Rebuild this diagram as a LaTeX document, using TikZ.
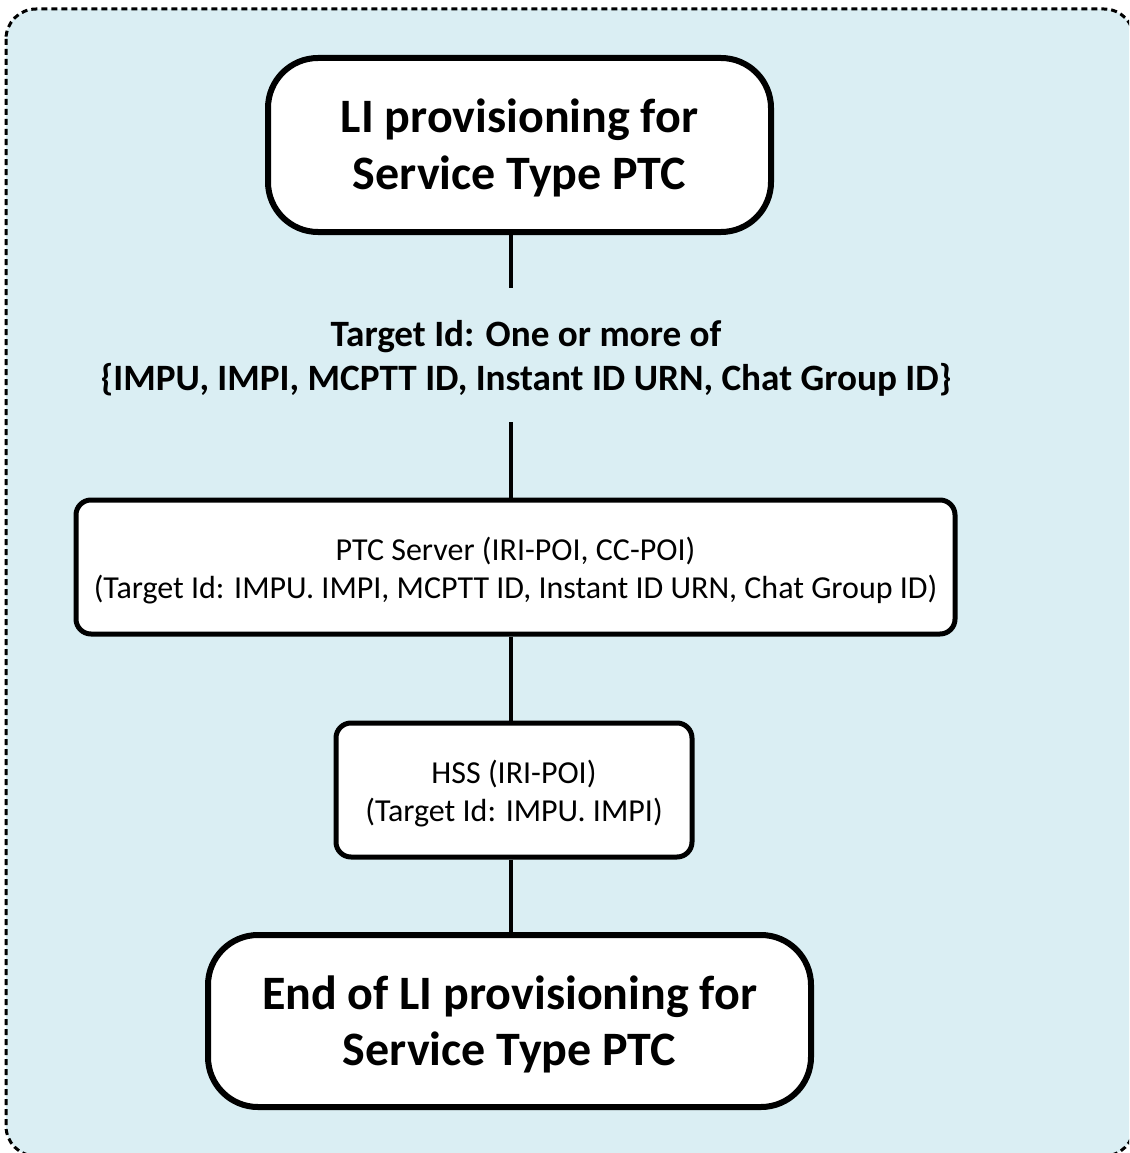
\documentclass[tikz,border=0pt]{standalone}
\usepackage{fontspec}
\setmainfont{Carlito}
\definecolor{bgblue}{HTML}{DAEEF3}
\begin{document}
\begin{tikzpicture}[x=1pt,y=-1pt,
  bigbox/.style={draw=black,line width=6pt,fill=white,rounded corners=50pt,inner sep=0pt},
  bigtext/.style={align=center,inner sep=0pt,font=\fontsize{48}{56.5}\selectfont\bfseries},
  smallbox/.style={draw=black,line width=5pt,fill=white,rounded corners=15pt,inner sep=0pt},
  smalltext/.style={align=center,inner sep=0pt,font=\fontsize{32}{38}\selectfont},
  midlabel/.style={align=center,inner sep=0pt,font=\fontsize{37.2}{44}\selectfont\bfseries},
  link/.style={draw=black,line width=4pt}]
\useasboundingbox (0,0) rectangle (1129,1153);
\begin{scope}
\clip (0,0) rectangle (1129,1153);
\draw[fill=bgblue,line width=3pt,dash pattern=on 6pt off 4pt,rounded corners=30pt] (6,9) rectangle (1134,1156);
\end{scope}
\node[bigbox,minimum width=503pt,minimum height=174pt,
  label={[bigtext,yshift=-3pt]center:{LI provisioning for\\Service Type PTC}}] (start) at (519.5,145) {};
\node[midlabel] (target) at (526,358) {Target Id: One or more of\\\{IMPU, IMPI, MCPTT ID, Instant ID URN, Chat Group ID\}};
\node[smallbox,minimum width=879pt,minimum height=134pt,
  label={[smalltext,yshift=-3.5pt]center:{PTC Server (IRI-POI, CC-POI)\\(Target Id: IMPU. IMPI, MCPTT ID, Instant ID URN, Chat Group ID)}}] (ptc) at (515.5,567) {};
\node[smallbox,minimum width=356pt,minimum height=134pt,
  label={[smalltext,yshift=-3.5pt]center:{HSS (IRI-POI)\\(Target Id: IMPU. IMPI)}}] (hss) at (514,790) {};
\node[bigbox,minimum width=603pt,minimum height=172pt,
  label={[bigtext,yshift=-3.5pt]center:{End of LI provisioning for\\Service Type PTC}}] (end) at (509.5,1021) {};
\coordinate (lx) at (511,0);
\coordinate (t1) at (511,288);
\coordinate (t2) at (511,422);
\draw[link] (start.south -| lx) -- (t1);
\draw[link] (t2) -- (ptc.north -| lx);
\draw[link] (ptc.south -| lx) -- (hss.north -| lx);
\draw[link] (hss.south -| lx) -- (end.north -| lx);
\end{tikzpicture}
\end{document}
